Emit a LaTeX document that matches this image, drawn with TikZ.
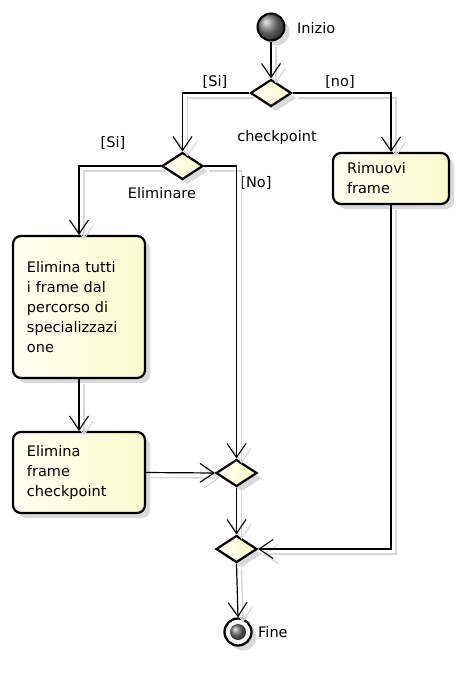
\documentclass[tikz,border=0pt]{standalone}
\usepackage{fontspec}
\setmainfont{DejaVu Sans}
\usetikzlibrary{arrows.meta,shapes.geometric,shadows}
\definecolor{boxA}{RGB}{255,255,242}
\definecolor{boxB}{RGB}{250,250,205}
\definecolor{shad}{RGB}{215,215,215}
\begin{document}
\begin{tikzpicture}[x=1pt,y=-1pt,
  font=\fontsize{14.5}{20}\selectfont,
  every node/.style={inner sep=0pt},
  nshadow/.style={drop shadow={shadow xshift=5pt,shadow yshift=-5pt,fill=shad,opacity=0.9}},
  action/.style={draw=black,line width=2.2pt,rounded corners=8pt,left color=boxA,right color=boxB,nshadow,align=left},
  decision/.style={diamond,draw=black,line width=2.2pt,minimum width=41pt,minimum height=27pt,left color=boxA,right color=boxB,nshadow},
  conn/.style={line width=1.2pt,-{Straight Barb[length=14pt,width=19pt,line width=1.1pt]},
    preaction={draw=shad,line width=1.4pt,transform canvas={shift={(5pt,-5pt)}}}},
  lbl/.style={text=black}
]
\useasboundingbox[fill=white] (0,0) rectangle (462,688);

% start
\node[circle,draw=black,line width=2pt,minimum size=27pt,shading=ball,ball color=black!50,nshadow] (start) at (271,27) {};
\node[lbl,anchor=west] (linizio) at (297,28) {Inizio};

% decisions
\node[decision] (d1) at (271,93) {};
\node[decision] (d2) at (182.5,166) {};
\node[decision] (m1) at (236.5,473) {};
\node[decision] (m2) at (236.5,549) {};

% actions
\node[action,minimum width=132pt,minimum height=142pt,text width=104pt] (b1) at (79,307)
  {Elimina tutti\\ i frame dal\\ percorso di\\ specializzazi\\ one};
\node[action,minimum width=132pt,minimum height=81pt,text width=104pt] (b2) at (79,472.5)
  {Elimina\\ frame\\ checkpoint};
\node[action,minimum width=116pt,minimum height=51pt,text width=88pt] (r) at (391,178.5)
  {Rimuovi\\ frame};

% end
\node[circle,draw=black,line width=2.3pt,minimum size=27pt,fill=white,nshadow] (end) at (238,632) {};
\node[circle,minimum size=16pt,shading=ball,ball color=black!55] (endin) at (end.center) {};
\node[lbl,anchor=west] (lfine) at (258,632) {Fine};

% labels
\node[lbl] (lsi1) at (215,82) {[Si]};
\node[lbl] (lno1) at (340,82) {[no]};
\node[lbl] (lcp) at (277,137) {checkpoint};
\node[lbl] (lsi2) at (113,143) {[Si]};
\node[lbl] (lno2) at (256,183) {[No]};
\node[lbl] (lel) at (162,193) {Eliminare};

% connectors
\draw[conn] (start) -- (d1.north);
\draw[conn] (d1.west) -| (d2.north);
\draw[conn] (d1.east) -| (r.north);
\draw[conn] (d2.west) -| (b1.north);
\draw[conn] (d2.east) -| (m1.north);
\draw[conn] (b1) -- (b2);
\draw[conn] (b2.east) -- (m1.west);
\draw[conn] (m1.south) -- (m2.north);
\draw[conn] (r.south) |- (m2.east);
\draw[conn] (m2.south) -- (end.north);
\end{tikzpicture}
\end{document}
